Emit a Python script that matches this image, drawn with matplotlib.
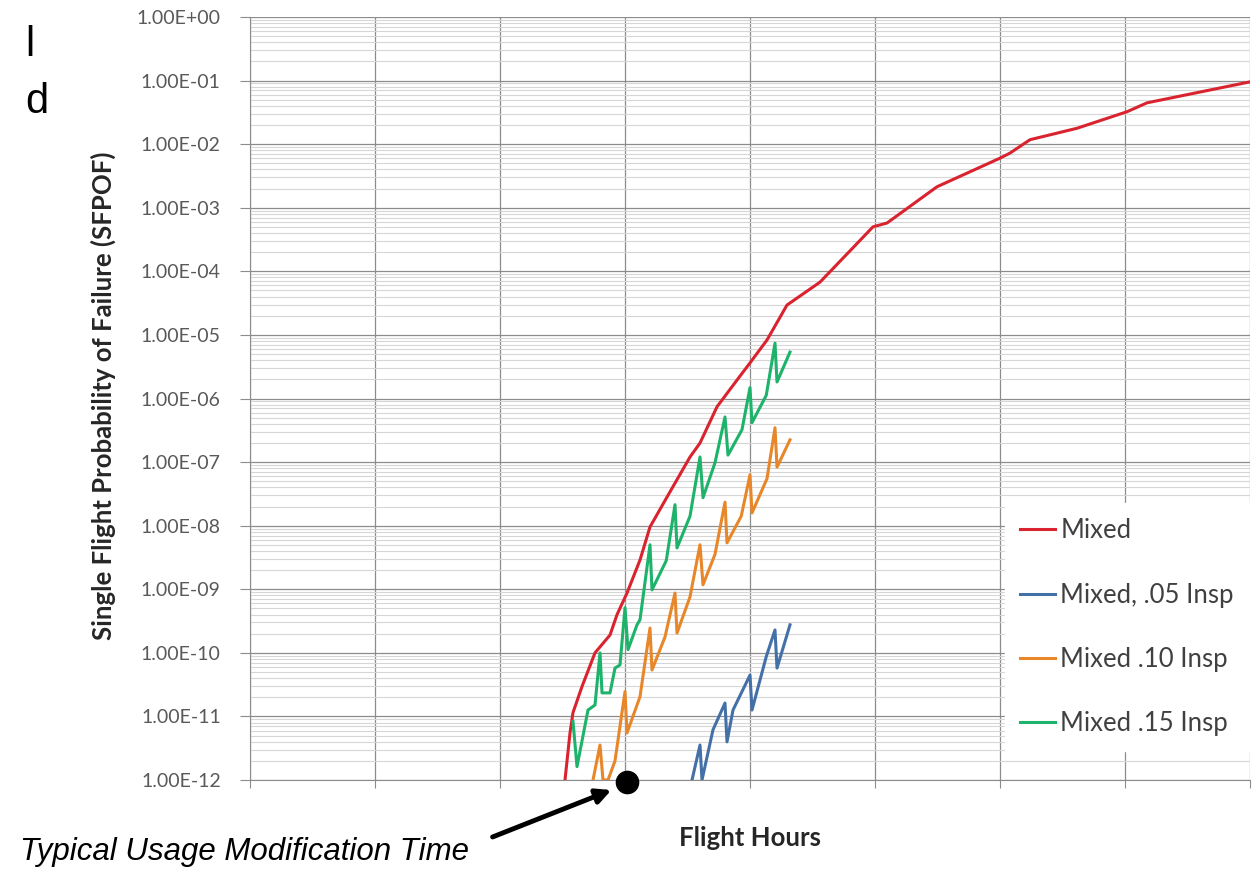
import matplotlib
matplotlib.use("Agg")
import matplotlib.pyplot as plt
import numpy as np
from matplotlib.patches import FancyArrowPatch
from matplotlib.ticker import LogLocator, NullFormatter, FuncFormatter

# flight hours (x gridlines every 1000 h, labels hidden as in the source chart)
# SFPOF values are stored as log10 exponents
mixed_hours = [2520, 2560, 2584, 2656, 2760, 2880, 2936, 3016, 3120, 3200, 3336,
               3520, 3600, 3736, 3896, 4000, 4136, 4296, 4560, 4984, 5096, 5496,
               6000, 6080, 6240, 6616, 7016, 7176, 8000]
mixed_exp = [-12.0, -11.26, -10.94, -10.53, -10.00, -9.72, -9.40, -9.06, -8.54, -8.02, -7.55,
             -6.92, -6.70, -6.13, -5.71, -5.44, -5.08, -4.53, -4.17, -3.30, -3.24, -2.67,
             -2.22, -2.14, -1.93, -1.75, -1.49, -1.35, -1.02]

insp05_hours = [3536, 3600, 3616, 3704, 3800, 3816, 3864, 4000, 4016, 4130, 4200, 4216, 4320]
insp05_exp = [-12.0, -11.45, -12.0, -11.21, -10.79, -11.40, -10.90, -10.35, -10.90, -10.06,
              -9.64, -10.24, -9.56]

insp10_hours = [2744, 2800, 2824, 2864, 2920, 3000, 3016, 3120, 3200, 3216, 3320, 3400,
                3416, 3520, 3600, 3624, 3720, 3800, 3816, 3930, 4000, 4016, 4136, 4200,
                4216, 4320]
insp10_exp = [-12.0, -11.45, -12.0, -12.0, -11.70, -10.61, -11.26, -10.69, -9.61, -10.27,
              -9.75, -9.06, -9.69, -9.12, -8.30, -8.93, -8.45, -7.63, -8.27, -7.85, -7.20,
              -7.80, -7.26, -6.46, -7.08, -6.65]

insp15_hours = [2584, 2616, 2704, 2760, 2800, 2816, 2880, 2920, 2960, 3000, 3024, 3096,
                3120, 3200, 3216, 3330, 3400, 3416, 3520, 3600, 3624, 3720, 3800, 3824,
                3936, 4000, 4016, 4130, 4200, 4216, 4320]
insp15_exp = [-11.08, -11.79, -10.90, -10.82, -10.00, -10.63, -10.63, -10.24, -10.19, -9.29,
              -9.95, -9.56, -9.48, -8.30, -9.01, -8.55, -7.67, -8.35, -7.85, -6.92, -7.56,
              -7.01, -6.29, -6.89, -6.49, -5.83, -6.38, -5.95, -5.13, -5.74, -5.27]

labels = ["Mixed", "Mixed, .05 Insp", "Mixed .10 Insp", "Mixed .15 Insp"]
colors = ["#d9232f", "#4470a8", "#e8872a", "#1db36b"]

mod_time_hours = 3016
mod_time_sfpof = 9.2e-13

W, H = 1258, 871
fig = plt.figure(figsize=(W / 100, H / 100), dpi=100)
ax = fig.add_axes([250 / W, 91 / H, 1000 / W, 763 / H])

series = [(mixed_hours, mixed_exp), (insp05_hours, insp05_exp),
          (insp10_hours, insp10_exp), (insp15_hours, insp15_exp)]
for (hrs, ex), lab, col in zip(series, labels, colors):
    ax.plot(hrs, 10 ** np.array(ex), color=col, lw=2.2, label=lab, zorder=3,
            solid_joinstyle="round")

ax.set_yscale("log")
ax.set_ylim(1e-12, 1)
ax.set_xlim(0, 8000)
ax.set_xticks(range(0, 8001, 1000))
ax.yaxis.set_major_locator(LogLocator(base=10, numticks=20))
ax.yaxis.set_minor_locator(LogLocator(base=10, subs=np.arange(2, 10), numticks=200))
ax.yaxis.set_minor_formatter(NullFormatter())
ax.yaxis.set_major_formatter(FuncFormatter(lambda v, p: f"{v:.2E}"))

ax.grid(which="major", axis="both", color="#8c8c8c", lw=0.9)
ax.grid(which="minor", axis="y", color="#d6d6d6", lw=0.8)
ax.tick_params(axis="y", which="minor", length=0)
ax.tick_params(axis="y", which="major", length=7, color="#8c8c8c", pad=14,
               labelsize=14, labelcolor="#595959")
ax.tick_params(axis="x", length=6, color="#8c8c8c", labelbottom=False)
for lab in ax.get_yticklabels():
    lab.set_family("Lato")
for s in ["top", "right"]:
    ax.spines[s].set_visible(False)
for s in ["left", "bottom"]:
    ax.spines[s].set_color("#8c8c8c")

fig.text(103 / W, 1 - 396 / H, "Single Flight Probability of Failure (SFPOF)",
         rotation=90, ha="center", va="center", fontsize=18.5, fontweight="bold",
         family="Lato", color="#262626")
fig.text(750 / W, 1 - 838 / H, "Flight Hours", ha="center", va="center",
         fontsize=18.5, fontweight="bold", family="Lato", color="#262626")

leg = ax.legend(loc="upper left", bbox_to_anchor=(0.755, 0.363), borderaxespad=0,
                frameon=True, fancybox=False, edgecolor="white", framealpha=1,
                prop={"family": "Lato", "size": 18.5}, labelspacing=1.52,
                handlelength=1.36, handletextpad=0.2, borderpad=0.6)
for t in leg.get_texts():
    t.set_color("#404040")

# marker for typical usage modification time, with arrow and caption
ax.plot([mod_time_hours], [mod_time_sfpof], "o", color="black", ms=16,
        clip_on=False, zorder=5)
arrow = FancyArrowPatch((490 / W, 33 / H), (614 / W, 82 / H), transform=fig.transFigure,
                        arrowstyle="-|>", color="black", lw=3.5, mutation_scale=22)
fig.add_artist(arrow)
fig.text(20 / W, 1 - 852 / H, "Typical Usage Modification Time", ha="left", va="center",
         fontsize=22.5, style="italic", family="Liberation Sans")

# leftover slide text at the top-left edge
fig.text(25 / W, 1 - 45 / H, "l", ha="left", va="center", fontsize=30,
         family="Liberation Sans")
fig.text(25 / W, 1 - 102 / H, "d", ha="left", va="center", fontsize=30,
         family="Liberation Sans")

fig.savefig("out.png", dpi=100, facecolor="white")
